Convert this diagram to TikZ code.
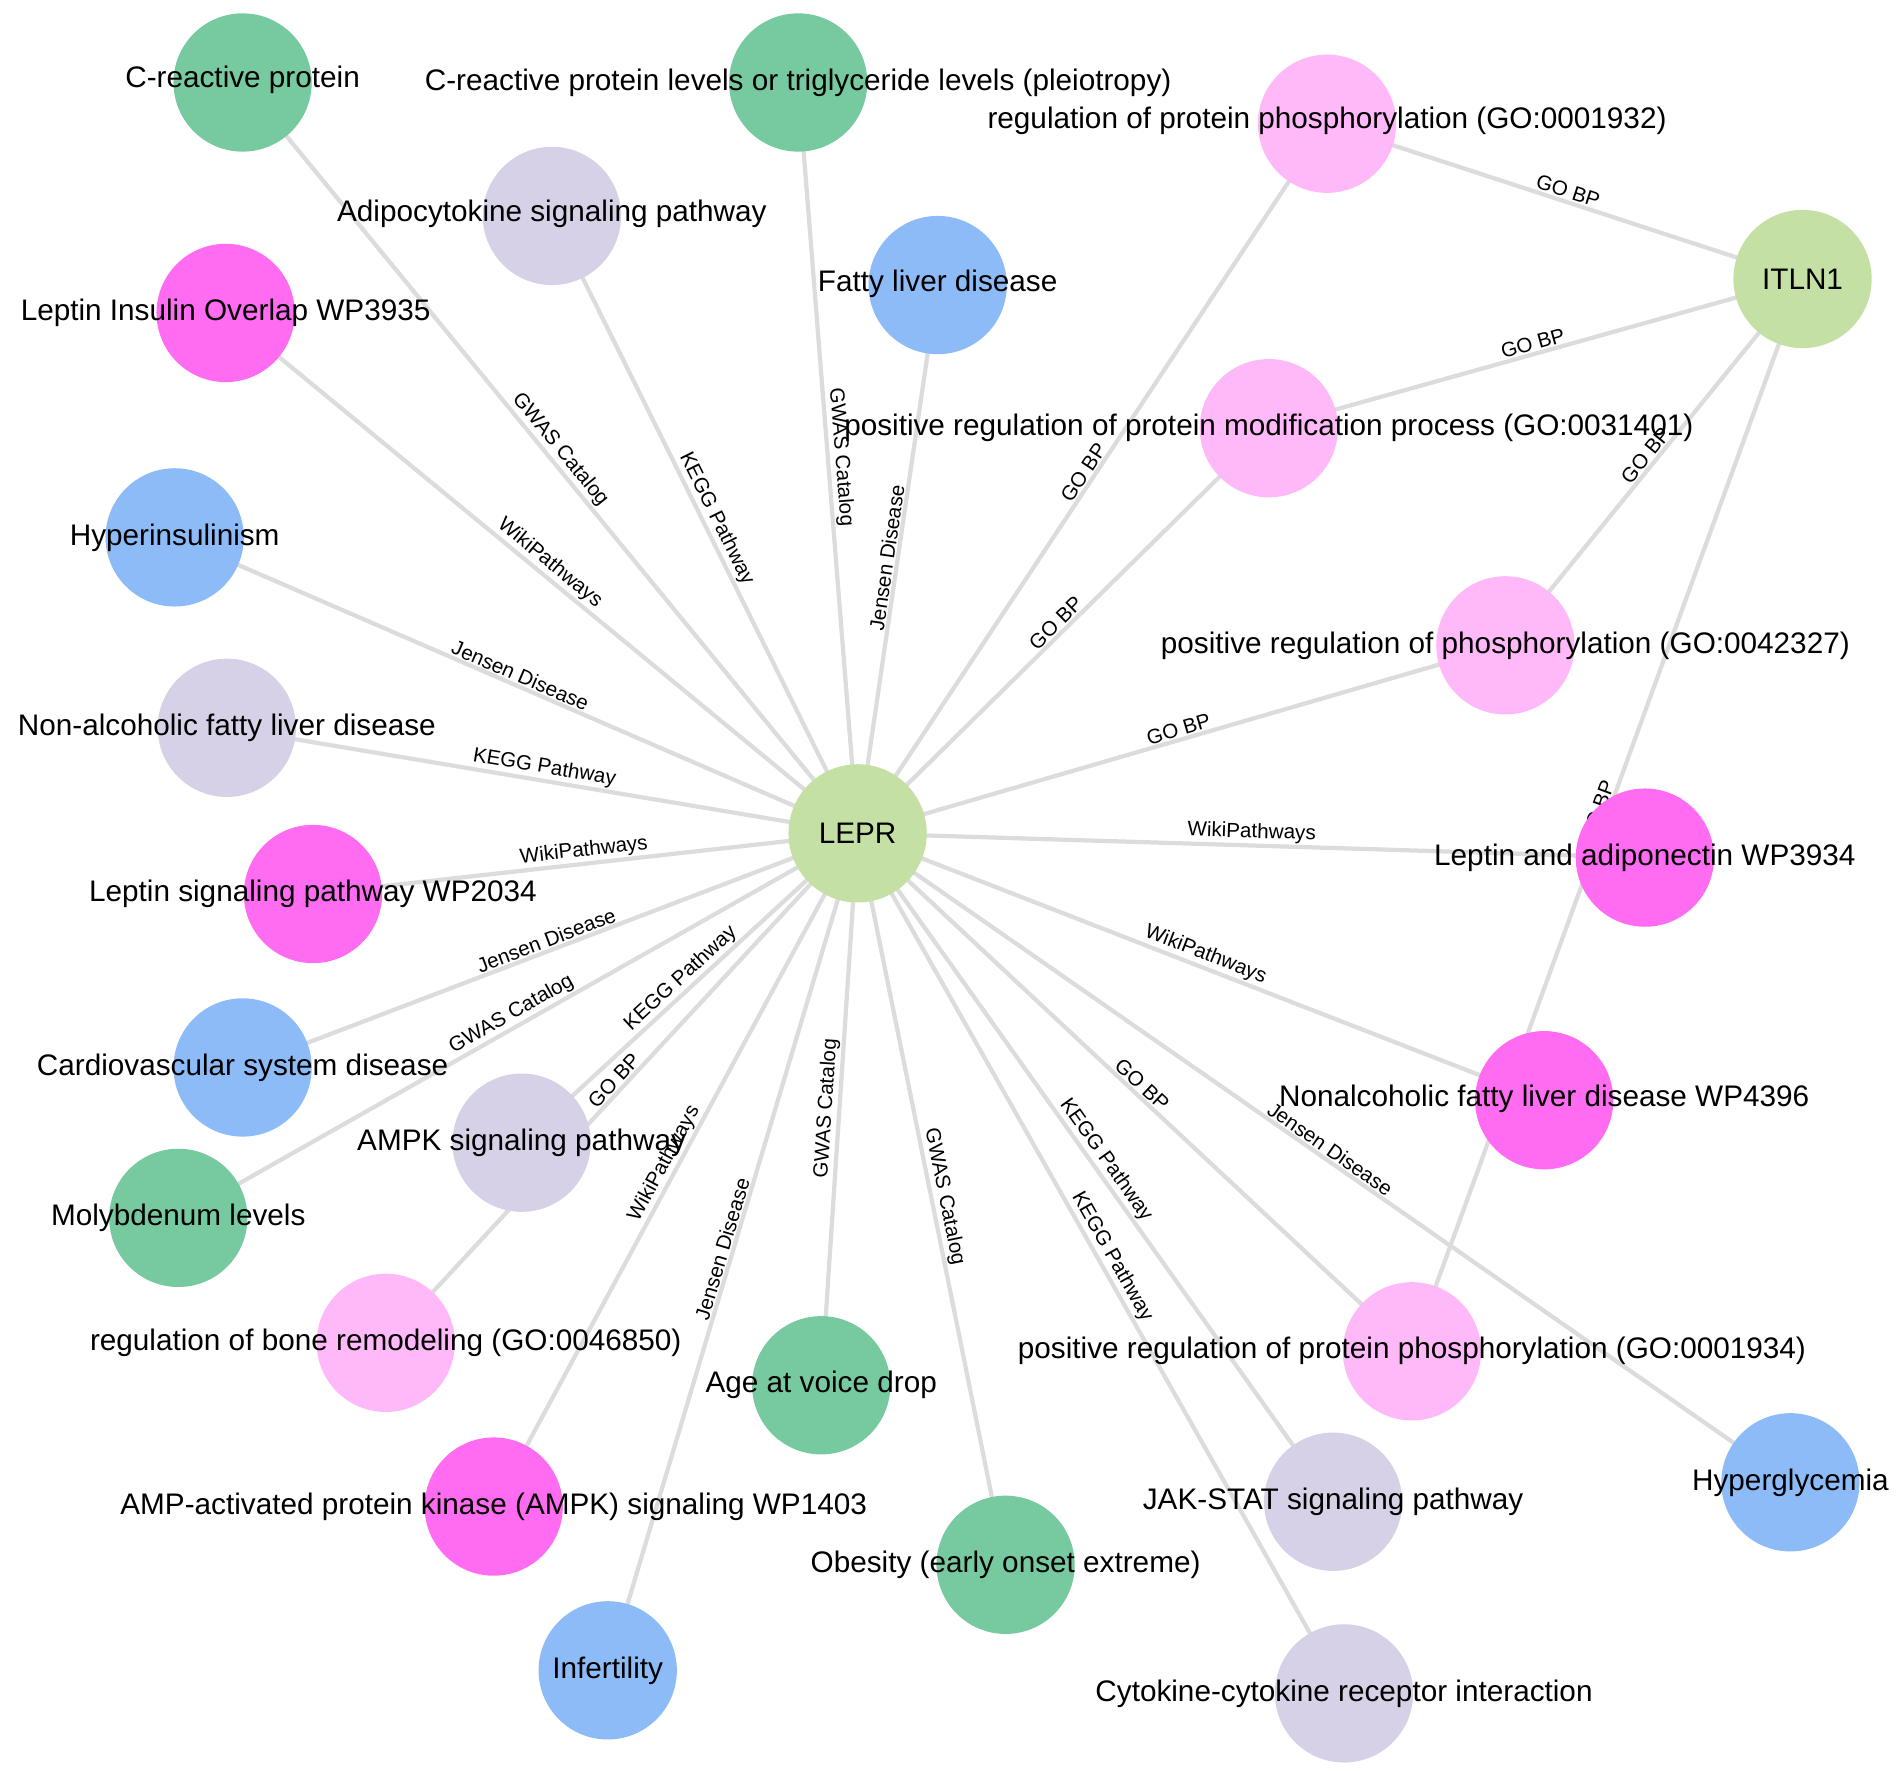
\documentclass[tikz,border=0pt]{standalone}
\usepackage{fontspec}
\setmainfont{Liberation Sans}
\begin{document}
\definecolor{cgreen}{HTML}{77C9A0}
\definecolor{cyg}{HTML}{C5E0A5}
\definecolor{clp}{HTML}{FFB9F9}
\definecolor{cmag}{HTML}{FF6CF2}
\definecolor{cgrey}{HTML}{D6D1E6}
\definecolor{cblue}{HTML}{8CBBF8}
\definecolor{cedge}{HTML}{DCDCDC}
\begin{tikzpicture}[x=1pt,y=-1pt,
 nd/.style={circle,minimum size=114pt,inner sep=0pt,draw=none,fill=#1},
 tx/.style={font=\fontsize{24.5}{28}\selectfont,inner sep=0pt},
 e/.style={draw=cedge,line width=3.5pt},
 el/.style={font=\fontsize{17}{19}\selectfont,sloped,above=0pt,inner sep=1pt,pos=0.5}]
\useasboundingbox (0,0) rectangle (1568,1465);
\coordinate (lepr) at (707,687);
\coordinate (itln) at (1486,230);
\coordinate (crp) at (200,68);
\coordinate (crpl) at (658,68);
\coordinate (go1932) at (1094,102);
\coordinate (adipo) at (455,178);
\coordinate (fld) at (773,235);
\coordinate (lio) at (186,258);
\coordinate (go1401) at (1046,353);
\coordinate (hyperi) at (144,443);
\coordinate (go2327) at (1241,532);
\coordinate (nafld) at (187,600);
\coordinate (lsp) at (258,737);
\coordinate (lad) at (1356,707);
\coordinate (cvd) at (200,880);
\coordinate (wp4396) at (1273,907);
\coordinate (moly) at (147,1004);
\coordinate (ampk) at (430,942);
\coordinate (bone) at (318,1107);
\coordinate (voice) at (677,1142);
\coordinate (go1934) at (1164,1114);
\coordinate (wp1403) at (407,1242);
\coordinate (obes) at (829,1290);
\coordinate (jak) at (1099,1238);
\coordinate (hyperg) at (1476,1222);
\coordinate (infert) at (501,1377);
\coordinate (cyto) at (1108,1396);
\draw[e] (lepr) -- node[el]{GWAS Catalog} (crp);
\draw[e] (lepr) -- node[el]{KEGG Pathway} (adipo);
\draw[e] (lepr) -- node[el]{GWAS Catalog} (crpl);
\draw[e] (lepr) -- node[el]{Jensen Disease} (fld);
\draw[e] (lepr) -- node[el]{WikiPathways} (lio);
\draw[e] (lepr) -- node[el]{GO BP} (go1932);
\draw[e] (lepr) -- node[el]{GO BP} (go1401);
\draw[e] (lepr) -- node[el]{Jensen Disease} (hyperi);
\draw[e] (lepr) -- node[el]{GO BP} (go2327);
\draw[e] (lepr) -- node[el]{KEGG Pathway} (nafld);
\draw[e] (lepr) -- node[el]{WikiPathways} (lsp);
\draw[e] (lepr) -- node[el]{WikiPathways} (lad);
\draw[e] (lepr) -- node[el]{Jensen Disease} (cvd);
\draw[e] (lepr) -- node[el]{WikiPathways} (wp4396);
\draw[e] (lepr) -- node[el]{GWAS Catalog} (moly);
\draw[e] (lepr) -- node[el]{KEGG Pathway} (ampk);
\draw[e] (lepr) -- node[el]{GO BP} (bone);
\draw[e] (lepr) -- node[el]{WikiPathways} (wp1403);
\draw[e] (lepr) -- node[el]{Jensen Disease} (infert);
\draw[e] (lepr) -- node[el]{GWAS Catalog} (voice);
\draw[e] (lepr) -- node[el]{GWAS Catalog} (obes);
\draw[e] (lepr) -- node[el]{GO BP} (go1934);
\draw[e] (lepr) -- node[el]{KEGG Pathway} (jak);
\draw[e] (lepr) -- node[el]{KEGG Pathway} (cyto);
\draw[e] (lepr) -- node[el]{Jensen Disease} (hyperg);
\draw[e] (itln) -- node[el]{GO BP} (go1932);
\draw[e] (itln) -- node[el]{GO BP} (go1401);
\draw[e] (itln) -- node[el]{GO BP} (go2327);
\draw[e] (itln) -- node[el]{GO BP} (go1934);
\node[nd=cyg] (nLEPR) at (lepr) {};
\node[nd=cyg] (nITLN) at (itln) {};
\node[nd=cgreen] (nCRP) at (crp) {};
\node[nd=cgreen] (nCRPL) at (crpl) {};
\node[nd=clp] (nGO1932) at (go1932) {};
\node[nd=cgrey] (nADIPO) at (adipo) {};
\node[nd=cblue] (nFLD) at (fld) {};
\node[nd=cmag] (nLIO) at (lio) {};
\node[nd=clp] (nGO1401) at (go1401) {};
\node[nd=cblue] (nHYPERI) at (hyperi) {};
\node[nd=clp] (nGO2327) at (go2327) {};
\node[nd=cgrey] (nNAFLD) at (nafld) {};
\node[nd=cmag] (nLSP) at (lsp) {};
\node[nd=cmag] (nLAD) at (lad) {};
\node[nd=cblue] (nCVD) at (cvd) {};
\node[nd=cmag] (nWP4396) at (wp4396) {};
\node[nd=cgreen] (nMOLY) at (moly) {};
\node[nd=cgrey] (nAMPK) at (ampk) {};
\node[nd=clp] (nBONE) at (bone) {};
\node[nd=cgreen] (nVOICE) at (voice) {};
\node[nd=clp] (nGO1934) at (go1934) {};
\node[nd=cmag] (nWP1403) at (wp1403) {};
\node[nd=cgreen] (nOBES) at (obes) {};
\node[nd=cgrey] (nJAK) at (jak) {};
\node[nd=cblue] (nHYPERG) at (hyperg) {};
\node[nd=cblue] (nINFERT) at (infert) {};
\node[nd=cgrey] (nCYTO) at (cyto) {};
\node[tx] (tLEPR) at (lepr) {LEPR};
\node[tx] (tITLN) at (itln) {ITLN1};
\node[tx] (tCRP) at (200,66) {C-reactive protein};
\node[tx] (tCRPL) at (658,68) {C-reactive protein levels or triglyceride levels (pleiotropy)};
\node[tx] (tGO1932) at (1094,100) {regulation of protein phosphorylation (GO:0001932)};
\node[tx] (tADIPO) at (455,176) {Adipocytokine signaling pathway};
\node[tx] (tFLD) at (773,234) {Fatty liver disease};
\node[tx] (tLIO) at (186,258) {Leptin Insulin Overlap WP3935};
\node[tx] (tGO1401) at (1046,353) {positive regulation of protein modification process (GO:0031401)};
\node[tx] (tHYPERI) at (144,443) {Hyperinsulinism};
\node[tx] (tGO2327) at (1241,532) {positive regulation of phosphorylation (GO:0042327)};
\node[tx] (tNAFLD) at (187,600) {Non-alcoholic fatty liver disease};
\node[tx] (tLSP) at (258,737) {Leptin signaling pathway WP2034};
\node[tx] (tLAD) at (1356,707) {Leptin and adiponectin WP3934};
\node[tx] (tCVD) at (200,880) {Cardiovascular system disease};
\node[tx] (tWP4396) at (1273,906) {Nonalcoholic fatty liver disease WP4396};
\node[tx] (tMOLY) at (147,1004) {Molybdenum levels};
\node[tx] (tAMPK) at (430,942) {AMPK signaling pathway};
\node[tx] (tBONE) at (318,1107) {regulation of bone remodeling (GO:0046850)};
\node[tx] (tVOICE) at (677,1142) {Age at voice drop};
\node[tx] (tGO1934) at (1164,1114) {positive regulation of protein phosphorylation (GO:0001934)};
\node[tx] (tWP1403) at (407,1242) {AMP-activated protein kinase (AMPK) signaling WP1403};
\node[tx] (tOBES) at (829,1290) {Obesity (early onset extreme)};
\node[tx] (tJAK) at (1099,1238) {JAK-STAT signaling pathway};
\node[tx] (tHYPERG) at (1476,1222) {Hyperglycemia};
\node[tx] (tINFERT) at (501,1377) {Infertility};
\node[tx] (tCYTO) at (1108,1396) {Cytokine-cytokine receptor interaction};
\end{tikzpicture}
\end{document}
